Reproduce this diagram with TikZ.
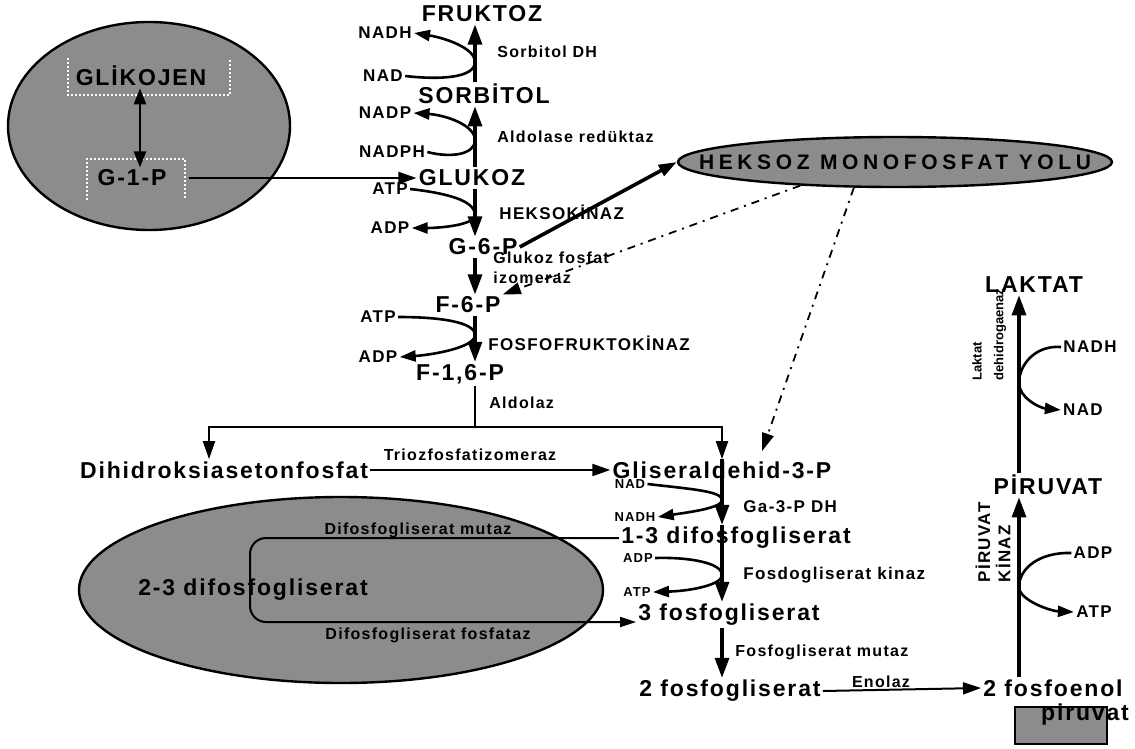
\documentclass[tikz,border=0pt]{standalone}
\usepackage{fontspec}
\setsansfont{Liberation Sans}[LetterSpace=8]
\usetikzlibrary{arrows.meta,shapes.geometric}

\begin{document}
\begin{tikzpicture}[x=0.5pt, y=-0.5pt,
    big/.style={font=\sffamily\bfseries\fontsize{11.5}{12}\selectfont, inner sep=1pt},
    mid/.style={font=\sffamily\bfseries\fontsize{8.5}{9}\selectfont, inner sep=1pt},
    lbl/.style={font=\sffamily\bfseries\fontsize{8}{10}\selectfont, inner sep=1pt},
    tiny/.style={font=\sffamily\bfseries\fontsize{6.5}{7}\selectfont, inner sep=1pt},
    vlbl/.style={font=\sffamily\bfseries\fontsize{6.5}{7}\selectfont\addfontfeature{LetterSpace=0}, inner sep=1pt, rotate=90, anchor=west},
    pool/.style={ellipse, draw, line width=1.2pt, fill=black!45, inner sep=0pt},
    conv/.style={line width=1.6pt, -{Triangle[length=10pt,width=7pt]}},
    thinconv/.style={line width=1pt, -{Triangle[length=9pt,width=6pt]}},
    cof/.style={line width=1.3pt, -{Triangle[length=8pt,width=5.5pt]}},
    hmpline/.style={line width=0.9pt, dash pattern=on 4pt off 3pt on 1pt off 3pt, -{Triangle[length=9pt,width=6pt]}}]
  \useasboundingbox (0,0) rectangle (1135,749);
  % pools
  \node[pool, minimum width=141pt, minimum height=104pt] (glyk) at (149,126) {};
  \node[pool, minimum width=217pt, minimum height=25pt] (hmp) at (895,162) {};
  \node[pool, minimum width=262pt, minimum height=93pt] (dpg) at (341,590) {};
  \draw[line width=1pt, fill=black!45] (1015,707) rectangle (1107,744);
  \node[font=\sffamily\bfseries\fontsize{10.5}{12}\selectfont\addfontfeature{LetterSpace=22}] (hmptxt) at (hmp) {HEKSOZ MONOFOSFAT YOLU};

  % glikojen
  \draw[white, densely dotted, line width=1pt] (68,58) -- (68,95) -- (230,95) -- (230,58);
  \draw[white, densely dotted, line width=1pt] (87,200) -- (87,159) -- (185,159) -- (185,200);
  \node[big] (glik) at (141,76) {GLİKOJEN};
  \node[big] (g1p) at (132,178) {G-1-P};
  \coordinate (gcol) at (140,0);

  % main column
  \coordinate (col) at (475,0);
  \node[big] (fruk) at (482,14) {FRUKTOZ};
  \node[mid] (nadh1) at (385,33) {NADH};
  \node[mid] (nad1) at (383,76) {NAD};
  \node[lbl, anchor=west] (sdh) at (495,52) {Sorbitol DH};
  \node[big] (sorb) at (484,94) {SORBİTOL};
  \node[mid] (nadp) at (385,113) {NADP};
  \node[mid] (nadph) at (392,152) {NADPH};
  \node[lbl, anchor=west] (ar) at (495,137) {Aldolase redüktaz};
  \node[big] (gluk) at (472,178) {GLUKOZ};
  \node[mid] (atp1) at (390,189) {ATP};
  \node[mid] (adp1) at (390,228) {ADP};
  \node[mid, anchor=west] (hk) at (497,212) {HEKSOKİNAZ};
  \node[big] (g6p) at (483,247) {G-6-P};
  \node[lbl, anchor=north west, align=left] (gpi) at (491,250) {Glukoz fosfat\\izomeraz};
  \node[big] (f6p) at (468,305) {F-6-P};
  \node[mid] (atp2) at (378,317) {ATP};
  \node[mid] (adp2) at (378,357) {ADP};
  \node[mid, anchor=west] (pfk) at (486,343) {FOSFOFRUKTOKİNAZ};
  \node[big] (f16p) at (460,374) {F-1,6-P};
  \node[lbl, anchor=west] (ald) at (487,403) {Aldolaz};
  \coordinate (split) at (475,427);
  \coordinate (dcol) at (209,0);

  % trioses
  \node[big] (dhap) at (224,470) {Dihidroksiasetonfosfat};
  \node[lbl] (tpi) at (470,455) {Triozfosfatizomeraz};
  \node[big] (gap) at (722,470) {Gliseraldehid-3-P};
  \node[tiny] (nad3) at (630,484) {NAD};
  \node[tiny] (nadh3) at (635,517) {NADH};
  \node[mid, anchor=west] (gapdh) at (741,507) {Ga-3-P DH};
  \node[big] (bpg13) at (736,538) {1-3 difosfogliserat};
  \node[tiny] (adp3) at (638,558) {ADP};
  \node[tiny] (atp3) at (637,592) {ATP};
  \node[mid, anchor=west] (pgk) at (741,575) {Fosdogliserat kinaz};
  \node[big] (pg3) at (729,615) {3 fosfogliserat};
  \node[lbl, anchor=west] (pgm) at (733,652) {Fosfogliserat mutaz};
  \node[big] (pg2) at (730,691) {2 fosfogliserat};
  \node[lbl] (eno) at (881,682) {Enolaz};
  \coordinate (tcol) at (722,0);

  % 2-3 DPG shunt
  \node[big] (bpg23) at (253,590) {2-3 difosfogliserat};
  \node[lbl] (bpgm) at (418,530) {Difosfogliserat mutaz};
  \node[lbl] (bpgp) at (428,635) {Difosfogliserat fosfataz};

  % right column
  \coordinate (rcol) at (1019,0);
  \node[big] (pep) at (1053,688) {2 fosfoenol};
  \node[big] (pep2) at (1085,715) {piruvat};
  \node[big] (pyr) at (1048,485) {PİRUVAT};
  \node[big] (lak) at (1034,285) {LAKTAT};
  \node[mid] (nadh5) at (1090,347) {NADH};
  \node[mid] (nad5) at (1083,410) {NAD};
  \node[mid] (adp4) at (1093,553) {ADP};
  \node[mid] (atp4) at (1094,612) {ATP};
  \node[vlbl] (ldh1) at (977,383) {Laktat};
  \node[vlbl] (ldh2) at (1000,383) {dehidrogaenaz};
  \node[mid, rotate=90, anchor=west] (pk1) at (983,585) {PİRUVAT};
  \node[mid, rotate=90, anchor=west] (pk2) at (1003,585) {KİNAZ};

  % connectors
  \draw[line width=1.3pt, {Triangle[length=8pt,width=6pt]}-{Triangle[length=8pt,width=6pt]}] (glik.south -| gcol) -- (g1p.north -| gcol);
  \draw[thinconv] ([xshift=10pt]g1p.east) -- (gluk.west);
  \draw[conv] (sorb.north -| col) -- (fruk.south -| col);
  \draw[conv] (gluk.north -| col) -- (sorb.south -| col);
  \draw[conv] (gluk.south -| col) -- (g6p.north -| col);
  \draw[conv] (g6p.south -| col) -- (f6p.north -| col);
  \draw[conv] (f6p.south -| col) -- (f16p.north -| col);
  \draw[line width=1pt] (f16p.south -| col) -- (split);
  \draw[thinconv] (split) -- (split -| dcol) -- (dhap.north -| dcol);
  \draw[thinconv] (split) -- (split -| tcol) -- (gap.north -| tcol);
  \draw[thinconv] (dhap.east) -- (gap.west);
  \draw[conv] (gap.north -| tcol) -- (bpg13.north -| tcol);
  \draw[conv] (bpg13.north -| tcol) -- (pg3.north -| tcol);
  \draw[conv] (pg3.south -| tcol) -- (pg2.north -| tcol);
  \draw[thinconv] (pg2.east) -- (pep.west);
  \draw[conv] (pep.north -| rcol) -- (pyr.south -| rcol);
  \draw[conv] (pyr.north -| rcol) -- (lak.south -| rcol);
  \draw[line width=1pt, -{Triangle[length=8pt,width=5pt]}, rounded corners=8pt]
    (bpg13.west) -- (250,538) -- (250,622) -- ([yshift=-3.5pt]pg3.west);
  \draw[line width=1.8pt, -{Triangle[length=9pt,width=6pt]}] (g6p.east) -- (hmp.west);
  \draw[hmpline] (hmp.194) -- (f6p.north east);
  \draw[hmpline] (hmp.212) -- ([xshift=20pt,yshift=4pt]gap.north);

  % cofactors
  \draw[cof] (nad1.east) .. controls (440,80) and (475,78) .. (475,62) .. controls (475,48) and (445,38) .. (nadh1.east);
  \draw[cof] (nadph.east) .. controls (450,158) and (475,155) .. (475,140) .. controls (475,125) and (445,115) .. (nadp.east);
  \draw[cof] (atp1.east) .. controls (445,193) and (475,200) .. (475,215) .. controls (475,225) and (440,228) .. (adp1.east);
  \draw[cof] (atp2.east) .. controls (440,317) and (475,322) .. (475,335) .. controls (475,348) and (430,355) .. (adp2.east);
  \draw[cof] (nad3.east) .. controls (690,489) and (722,491) .. (722,500) .. controls (722,508) and (690,512) .. (nadh3.east);
  \draw[cof] (adp3.east) .. controls (690,557) and (722,563) .. (722,575) .. controls (722,585) and (690,591) .. (atp3.east);
  \draw[cof] (nadh5.west) .. controls (1035,345) and (1019,365) .. (1019,383) .. controls (1019,398) and (1040,408) .. (nad5.west);
  \draw[cof] (adp4.west) .. controls (1040,552) and (1019,568) .. (1019,587) .. controls (1019,600) and (1050,611) .. (atp4.west);
\end{tikzpicture}
\end{document}
